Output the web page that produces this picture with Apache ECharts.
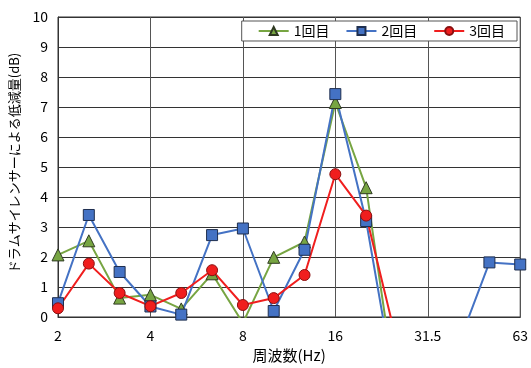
<!DOCTYPE html>
<html>
<head>
<meta charset="utf-8">
<script src="https://cdn.jsdelivr.net/npm/echarts@6/dist/echarts.min.js"></script>
<style>
  html, body { margin: 0; padding: 0; background: #fff; }
  #chart { width: 531px; height: 368px; }
</style>
</head>
<body>
<div id="chart"></div>
<script>
// 1/3-octave band centre frequencies (Hz)
const categories = ['2', '2.5', '3.15', '4', '5', '6.3', '8', '10', '12.5', '16', '20', '25', '31.5', '40', '50', '63'];
// octave bands that carry a label and a vertical grid line
const labelledBands = ['2', '4', '8', '16', '31.5', '63'];
// reduction by the drum silencer (dB), three measurements
const round1 = [2.07, 2.54, 0.63, 0.74, 0.27, 1.44, -0.2, 1.99, 2.5, 7.15, 4.31, -2.7, null, null, null, null];
const round2 = [0.46, 3.4, 1.5, 0.35, 0.08, 2.73, 2.95, 0.2, 2.24, 7.43, 3.2, -2.7, -2.5, -0.9, 1.82, 1.75];
const round3 = [0.29, 1.78, 0.8, 0.36, 0.8, 1.56, 0.4, 0.63, 1.4, 4.76, 3.38, -0.86, null, null, null, null];
const seriesNames = ['1回目', '2回目', '3回目'];

const font = '"Noto Sans CJK JP", "Noto Sans", sans-serif';
const chart = echarts.init(document.getElementById('chart'));

function lineSeries(name, data, color, symbol, border) {
  return {
    name: name,
    type: 'line',
    data: data,
    symbol: symbol,
    symbolSize: symbol === 'triangle' ? 12 : 11,
    showAllSymbol: true,
    clip: true,
    connectNulls: false,
    lineStyle: { color: color, width: 2 },
    itemStyle: { color: color, borderColor: border, borderWidth: 1 },
    emphasis: { disabled: true },
    animation: false
  };
}

chart.setOption({
  animation: false,
  textStyle: { fontFamily: font },
  grid: {
    left: 57, right: 9, top: 17, bottom: 45,
    show: true, borderColor: '#333', borderWidth: 1
  },
  legend: {
    right: 14, top: 21,
    padding: [3, 12, 3, 16],
    itemGap: 16,
    itemWidth: 30, itemHeight: 10,
    backgroundColor: '#fff',
    borderColor: '#555', borderWidth: 1,
    textStyle: { fontSize: 14, color: '#000', fontFamily: font },
    data: seriesNames
  },
  xAxis: {
    type: 'category',
    data: categories,
    boundaryGap: false,
    name: '周波数(Hz)',
    nameLocation: 'middle',
    nameGap: 31,
    nameTextStyle: { fontSize: 15, color: '#000', fontFamily: font },
    axisLine: { lineStyle: { color: '#333', width: 1 } },
    axisTick: { show: false },
    axisLabel: {
      interval: (i, v) => labelledBands.includes(v),
      margin: 12, fontSize: 14, color: '#000', fontFamily: font
    },
    splitLine: {
      show: true,
      interval: (i, v) => labelledBands.includes(v),
      lineStyle: { color: '#555', width: 1 }
    }
  },
  yAxis: {
    type: 'value',
    min: 0, max: 10, interval: 1,
    name: 'ドラムサイレンサーによる低減量(dB)',
    nameLocation: 'middle',
    nameGap: 37,
    nameTextStyle: { fontSize: 13, color: '#000', fontFamily: font, padding: [0, 0, 0, 8] },
    axisLine: { show: true, lineStyle: { color: '#333', width: 1 } },
    axisTick: { show: false },
    axisLabel: { margin: 10, fontSize: 14, color: '#000', fontFamily: font },
    splitLine: { show: true, lineStyle: { color: '#333', width: 1 } }
  },
  series: [
    lineSeries(seriesNames[0], round1, '#77A542', 'triangle', '#2f3a22'),
    lineSeries(seriesNames[1], round2, '#4472C4', 'rect', '#1f2f4f'),
    lineSeries(seriesNames[2], round3, '#F01E1E', 'circle', '#8a1010')
  ]
});
</script>
</body>
</html>
